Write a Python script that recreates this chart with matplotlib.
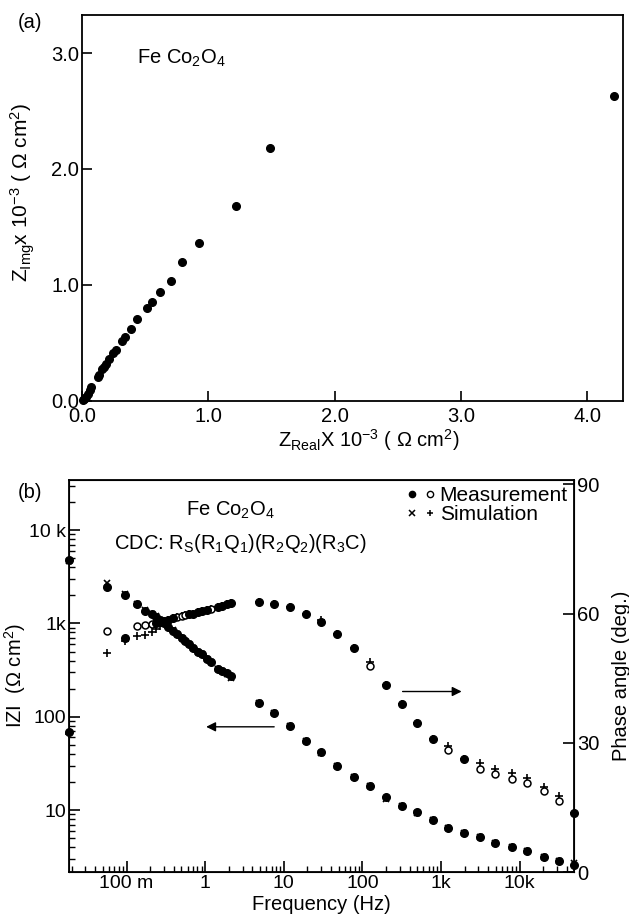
import matplotlib
matplotlib.use("Agg")
from matplotlib import pyplot as plt
from matplotlib.lines import Line2D
from matplotlib.legend_handler import HandlerTuple
from matplotlib.ticker import FixedLocator, FixedFormatter, LogLocator, NullFormatter

plt.rcParams['font.family'] = ['Liberation Sans', 'DejaVu Sans']
plt.rcParams['mathtext.fontset'] = 'custom'
plt.rcParams['mathtext.rm'] = 'Liberation Sans'
plt.rcParams['mathtext.it'] = 'Liberation Sans:italic'
plt.rcParams['mathtext.default'] = 'regular'

# (a) Nyquist plot, units of 10^3 ohm cm^2
z_real = [0.005, 0.013, 0.022, 0.029, 0.047, 0.060, 0.074, 0.125, 0.134, 0.161, 0.175,
          0.192, 0.213, 0.245, 0.266, 0.316, 0.343, 0.387, 0.435, 0.514, 0.551,
          0.620, 0.701, 0.791, 0.926, 1.222, 1.485, 4.209]
z_img = [0.004, 0.012, 0.018, 0.028, 0.056, 0.091, 0.119, 0.205, 0.220, 0.269, 0.290,
         0.315, 0.356, 0.413, 0.436, 0.516, 0.546, 0.617, 0.701, 0.796, 0.853,
         0.934, 1.035, 1.193, 1.363, 1.680, 2.178, 2.63]

# (b) Bode plot
freq = [0.0186, 0.056, 0.097, 0.135, 0.172, 0.209, 0.237, 0.267, 0.30, 0.34, 0.394,
        0.443, 0.504, 0.555, 0.63, 0.708, 0.819, 0.905, 1.07, 1.18, 1.47, 1.63, 1.88,
        2.12, 4.9, 7.6, 12.0, 19.2, 30.0, 47.5, 77.5, 124, 198, 322, 496, 798, 1245,
        1960, 3130, 4880, 7950, 12450, 20300, 31600, 49300]
zmod_meas = [4800, 2470, 2010, 1600, 1360, 1260, 1180, 1090, 1000, 923, 836, 769, 692,
             653, 601, 541, 498, 470, 412, 389, 322, 309, 292, 273, 141, 110, 80, 55,
             42, 29.9, 22.4, 18.1, 13.9, 11.1, 9.45, 7.8, 6.5, 5.7, 5.1, 4.47, 4.05,
             3.66, 3.11, 2.86, 2.55]
zmod_sim = [4700, 2700, 2050, 1620, 1380, 1270, 1190, 1100, 1010, 930, 840, 775, 700,
            655, 605, 545, 500, 472, 415, 390, 325, 310, 290, 262, 141, 110, 80, 55,
            41, 30, 22.4, 18, 13.2, 11.1, 9.4, 7.8, 6.5, 5.7, 5.1, 4.47, 4.05, 3.66,
            3.11, 2.86, 2.7]
phase_meas = [32.4, 56.0, 54.3, 57.0, 57.4, 57.6, 57.8, 58.0, 58.2, 58.5, 58.9, 59.2,
              59.5, 59.7, 59.9, 60.0, 60.3, 60.6, 60.9, 61.0, 61.5, 61.8, 62.1, 62.4,
              62.7, 62.2, 61.6, 60.0, 58.0, 55.3, 51.9, 47.8, 43.5, 38.9, 34.7, 30.8,
              28.3, 26.2, 24.0, 22.7, 21.5, 20.6, 18.8, 16.5, 13.8]
phase_sim = [32.0, 50.9, 53.6, 54.7, 55.1, 55.6, 56.3, 57.0, 57.8, 58.4, 58.9, 59.2,
             59.5, 59.7, 59.9, 60.0, 60.3, 60.6, 60.9, 61.0, 61.5, 61.8, 62.1, 62.4,
             62.7, 62.2, 61.6, 60.0, 58.4, 55.3, 51.9, 48.8, 43.5, 38.9, 34.7, 30.8,
             29.2, 26.2, 25.3, 24.0, 22.9, 21.9, 19.7, 17.6, 13.8]
# phase points that show up as hollow circles in the print
phase_hollow = [1, 3, 4, 5, 11, 12, 13, 19, 31, 36, 38, 39, 40, 41, 42, 43]

freq_ticks = [0.1, 1, 10, 100, 1000, 10000]
freq_labels = ['100 m', '1', '10', '100', '1k', '10k']
zmod_ticks = [10, 100, 1000, 10000]
zmod_labels = ['10', '100', '1k', '10 k']
phase_ticks = [0, 30, 60, 90]

FS = 14.5
fig = plt.figure(figsize=(6.29, 9.22), dpi=100)

# ---------- (a) ----------
ax1 = fig.add_axes([82 / 629, 1 - 400.5 / 922, 540.6 / 629, 385.5 / 922])
ax1.plot(z_real, z_img, 'o', color='black', ms=5.5, clip_on=False)
ax1.set_xlim(0, 4.28)
ax1.set_ylim(0, 3.33)
ax1.set_xticks([0, 1, 2, 3, 4])
ax1.set_xticklabels(['0.0', '1.0', '2.0', '3.0', '4.0'])
ax1.set_yticks([0, 1, 2, 3])
ax1.set_yticklabels(['0.0', '1.0', '2.0', '3.0'])
ax1.tick_params(direction='in', length=7, width=1.2, labelsize=FS, pad=2)
ax1.tick_params(axis='x', pad=5)
for s in ax1.spines.values():
    s.set_linewidth(1.3)
ax1.set_xlabel(r'Z$_{\mathrm{Real}}$X 10$^{-3}$ ( $\Omega$ cm$^{2}$)', fontsize=FS)
ax1.xaxis.set_label_coords(0.53, -0.07)
ax1.set_ylabel(r'Z$_{\mathrm{Img}}$x 10$^{-3}$ ( $\Omega$ cm$^{2}$)', fontsize=FS + 0.5)
ax1.yaxis.set_label_coords(-0.083, 0.54)
ax1.text(0.102, 0.888, r'Fe Co$_{2}$O$_{4}$', transform=ax1.transAxes, fontsize=FS,
         va='center', ha='left')
fig.text(0.048, 0.976, '(a)', fontsize=FS, ha='center', va='center')

# ---------- (b) ----------
ax2 = fig.add_axes([69 / 629, 1 - 872 / 922, 505 / 629, 392 / 922])
ax2.set_xscale('log')
ax2.set_yscale('log')
ax2.plot(freq, zmod_sim, 'x', color='black', ms=5, mew=1.2, clip_on=False, zorder=3)
ax2.plot(freq, zmod_meas, 'o', color='black', ms=5.5, clip_on=False, zorder=4)
ax2.set_xlim(0.01855, 49300)
ax2.set_ylim(2.17, 34400)
ax2.xaxis.set_major_locator(FixedLocator(freq_ticks))
ax2.xaxis.set_major_formatter(FixedFormatter(freq_labels))
ax2.xaxis.set_minor_locator(LogLocator(base=10, subs=range(2, 10), numticks=20))
ax2.xaxis.set_minor_formatter(NullFormatter())
ax2.yaxis.set_major_locator(FixedLocator(zmod_ticks))
ax2.yaxis.set_major_formatter(FixedFormatter(zmod_labels))
ax2.yaxis.set_minor_locator(LogLocator(base=10, subs=range(2, 10), numticks=20))
ax2.yaxis.set_minor_formatter(NullFormatter())
ax2.tick_params(which='major', direction='in', length=8, width=1.2, labelsize=14, pad=2)
ax2.tick_params(which='minor', direction='in', length=4, width=1.0)
for s in ax2.spines.values():
    s.set_linewidth(1.3)
ax2.set_xlabel('Frequency (Hz)', fontsize=FS, labelpad=2)
ax2.set_ylabel(r'IZI  ($\Omega$ cm$^{2}$)', fontsize=FS, labelpad=1)

ax3 = ax2.twinx()
ph_f_open = [freq[i] for i in phase_hollow]
ph_v_open = [phase_meas[i] for i in phase_hollow]
ph_f_fill = [f for i, f in enumerate(freq) if i not in phase_hollow]
ph_v_fill = [p for i, p in enumerate(phase_meas) if i not in phase_hollow]
ax3.plot(freq, phase_sim, '+', color='black', ms=5.5, mew=1.2, clip_on=False, zorder=3)
ax3.plot(ph_f_open, ph_v_open, 'o', mfc='white', mec='black', mew=1.1, ms=5,
         clip_on=False, zorder=4)
ax3.plot(ph_f_fill, ph_v_fill, 'o', color='black', ms=5.5, clip_on=False, zorder=4)
ax3.set_ylim(0, 91)
ax3.set_yticks(phase_ticks)
ax3.tick_params(direction='in', length=8, width=1.2, labelsize=FS, pad=2)
ax3.set_ylabel('Phase angle (deg.)', fontsize=FS, labelpad=9)

ax3.text(0.319, 0.923, r'Fe Co$_{2}$O$_{4}$', transform=ax2.transAxes, fontsize=FS,
         ha='center', va='center')
ax3.text(0.339, 0.839, r'CDC: R$_{S}$(R$_{1}$Q$_{1}$)(R$_{2}$Q$_{2}$)(R$_{3}$C)',
         transform=ax2.transAxes, fontsize=FS, ha='center', va='center')

# arrows pointing to the relevant axis
ax2.annotate('', xy=(0.95, 78), xytext=(8.2, 78),
             arrowprops=dict(arrowstyle='-|>', color='black', lw=1.0,
                             mutation_scale=14))
ax3.annotate('', xy=(1990, 41.9), xytext=(300, 41.9),
             arrowprops=dict(arrowstyle='-|>', color='black', lw=1.0,
                             mutation_scale=14))

h_meas = (Line2D([], [], ls='', marker='o', color='black', ms=4.5),
          Line2D([], [], ls='', marker='o', mfc='white', mec='black', ms=4.5))
h_sim = (Line2D([], [], ls='', marker='x', color='black', ms=4.5, mew=1.1),
         Line2D([], [], ls='', marker='+', color='black', ms=5, mew=1.1))
ax3.legend([h_meas, h_sim], ['Measurement', 'Simulation'],
           handler_map={tuple: HandlerTuple(ndivide=None, pad=0.3)},
           loc='upper right', frameon=False, fontsize=15, handlelength=1.4,
           handletextpad=0.2, borderaxespad=0.2, borderpad=0.1, labelspacing=0.0)

fig.text(0.048, 0.466, '(b)', fontsize=FS, ha='center', va='center')

fig.savefig('out.png', dpi=100)
